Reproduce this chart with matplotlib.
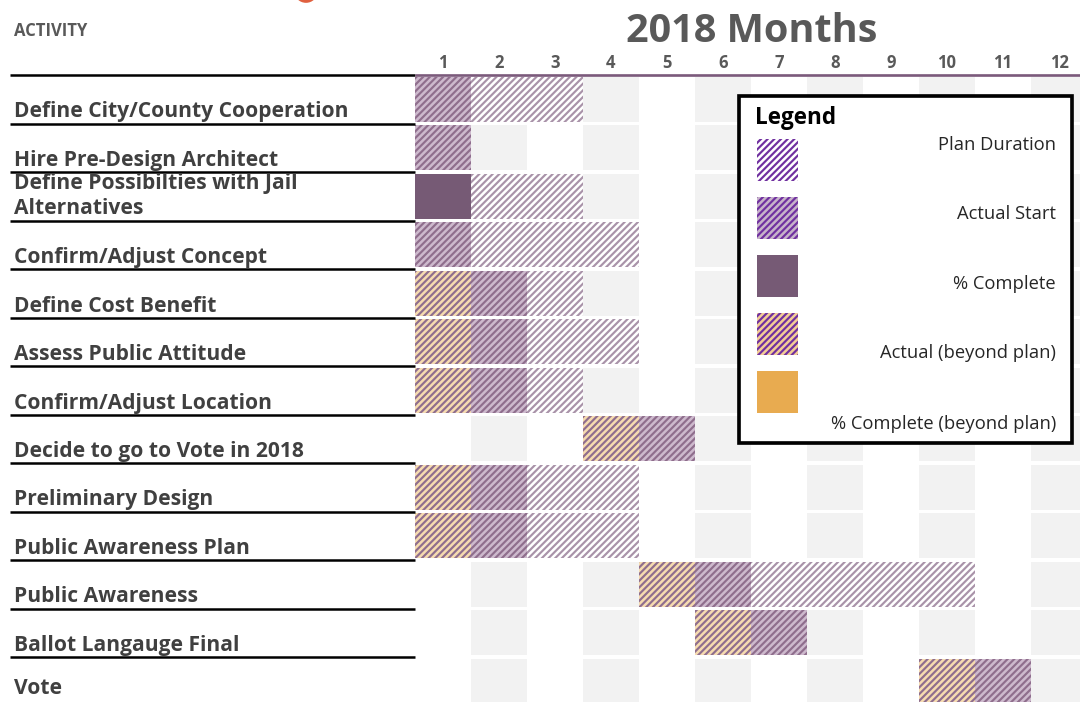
import matplotlib
matplotlib.use("Agg")
import matplotlib.pyplot as plt
from matplotlib.patches import Rectangle, Ellipse

plt.rcParams['font.family'] = ['Open Sans', 'DejaVu Sans']
plt.rcParams['hatch.linewidth'] = 1.3

# Data
tasks = [
    "Define City/County Cooperation",
    "Hire Pre-Design Architect",
    "Define Possibilties with Jail\nAlternatives",
    "Confirm/Adjust Concept",
    "Define Cost Benefit",
    "Assess Public Attitude",
    "Confirm/Adjust Location",
    "Decide to go to Vote in 2018",
    "Preliminary Design",
    "Public Awareness Plan",
    "Public Awareness",
    "Ballot Langauge Final",
    "Vote",
]
months = list(range(1, 13))
start_month = [1, 1, 1, 1, 1, 1, 1, 4, 1, 1, 5, 6, 10]
beyond_months = [0, 0, 0, 0, 1, 1, 1, 1, 1, 1, 1, 1, 1]
actual_months = [1, 1, 0, 1, 1, 1, 1, 1, 1, 1, 1, 1, 1]
complete_months = [0, 0, 1, 0, 0, 0, 0, 0, 0, 0, 0, 0, 0]
plan_months = [2, 0, 2, 3, 1, 2, 1, 0, 2, 2, 4, 0, 0]
legend_labels = ["Plan Duration", "Actual Start", "% Complete",
                 "Actual (beyond plan)", "% Complete (beyond plan)"]

W, H = 1080, 702
COL_W, ROW_H = 56, 48.5
X0, Y0 = 415, 75  # pixel position of the grid's top-left corner

fig = plt.figure(figsize=(9, 5.85), dpi=120)
ax = fig.add_axes([0, 0, 1, 1])
ax.set_xlim(0.5 - X0 / COL_W, 0.5 + (W - X0) / COL_W)
ax.set_ylim(0.5 + (H - Y0) / ROW_H, 0.5 - Y0 / ROW_H)
ax.axis('off')


def fx(px):
    return px / W


def fy(py):
    return 1 - py / H


def dx(px):
    return 0.5 + (px - X0) / COL_W


rows = list(range(1, len(tasks) + 1))
bh = 0.93
HATCH = '//////'

# background columns
for m in months:
    if m % 2 == 0:
        ax.barh(rows, 1, left=m - 0.5, height=bh, color='#f2f2f2', zorder=1)

styles = {
    'plan': dict(color='white', edgecolor='#a993a9', hatch=HATCH),
    'actual': dict(color='#cdb9cd', edgecolor='#8f6e8d', hatch=HATCH),
    'complete': dict(color='#765a75', edgecolor='#765a75'),
    'beyond': dict(color='#f6dbb0', edgecolor='#8f6e8d', hatch=HATCH),
}

left = [s - 0.5 for s in start_month]
for key, span in [('beyond', beyond_months), ('actual', actual_months),
                  ('complete', complete_months), ('plan', plan_months)]:
    for r, l, n in zip(rows, left, span):
        if n:
            ax.barh(r, n, left=l, height=bh, linewidth=0, zorder=2, **styles[key])
    left = [l + n for l, n in zip(left, span)]

# row separators and labels
for r in range(0, len(tasks)):
    ax.plot([dx(10), dx(X0)], [r + 0.5, r + 0.5], color='black', lw=1.5,
            solid_capstyle='butt', zorder=3)
ax.plot([dx(X0), dx(W)], [0.5, 0.5], color='#7b5a7b', lw=1.6,
        solid_capstyle='butt', zorder=3)

for r, name in zip(rows, tasks):
    lines = name.split("\n")
    for i, line in enumerate(reversed(lines)):
        ypx = min(Y0 + r * ROW_H - 11.5, H - 14) - 26 * i
        ax.text(fx(14), fy(ypx), line, transform=ax.transAxes, ha='left',
                va='center', fontsize=12.6, fontweight='bold', color='#404040',
                zorder=4)

for m in months:
    ax.text(m, 0.5 - 12 / ROW_H, str(m), ha='center', va='center',
            fontsize=10, fontweight='bold', color='#595959')

ax.text(fx(752), fy(31), "2018 Months", transform=ax.transAxes, ha='center',
        va='center', fontsize=23.8, fontweight='bold', color='#595959')
ax.text(fx(14), fy(31), "ACTIVITY", transform=ax.transAxes, ha='left',
        va='center', fontsize=10, fontweight='bold', color='#595959')

ax.add_patch(Ellipse((fx(306), fy(-9)), 22 / W, 22 / H, transform=ax.transAxes,
                     color='#e0603f', zorder=5))

# legend box
ax.add_patch(Rectangle((fx(739), fy(443)), 333 / W, 347 / H, transform=ax.transAxes,
                       facecolor='white', edgecolor='black', lw=2.2, zorder=6))
ax.text(fx(755), fy(118), "Legend", transform=ax.transAxes, ha='left', va='center',
        fontsize=13.5, fontweight='bold', color='black', zorder=7)
leg_styles = [
    dict(facecolor='white', edgecolor='#7030a0', hatch=HATCH),
    dict(facecolor='#c7b3ca', edgecolor='#7030a0', hatch=HATCH),
    dict(facecolor='#765a75', edgecolor='#765a75'),
    dict(facecolor='#f3cd96', edgecolor='#7030a0', hatch=HATCH),
    dict(facecolor='#e8ab50', edgecolor='#e8ab50'),
]
sw_top = [139, 197, 255, 313, 371]
lab_y = [145, 214, 284, 353, 424]
for st, t, ly, lab in zip(leg_styles, sw_top, lab_y, legend_labels):
    ax.add_patch(Rectangle((fx(757), fy(t + 42)), 41 / W, 42 / H,
                           transform=ax.transAxes, lw=0, zorder=7, **st))
    ax.text(fx(1056), fy(ly), lab, transform=ax.transAxes, ha='right',
            va='center', fontsize=11, color='#262626', zorder=7)

fig.savefig("out.png", dpi=120)
